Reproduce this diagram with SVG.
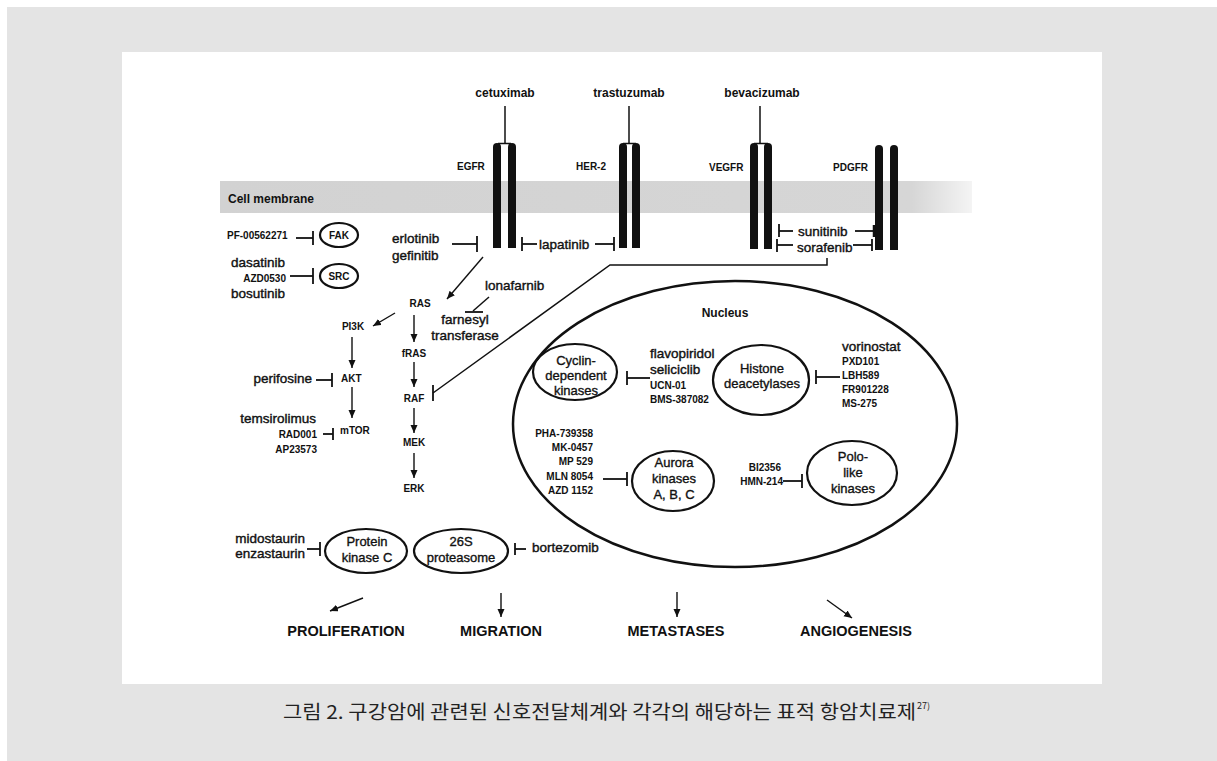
<svg xmlns="http://www.w3.org/2000/svg" width="1217" height="761" viewBox="0 0 1217 761">
<defs>
<marker id="ah" markerUnits="userSpaceOnUse" markerWidth="9" markerHeight="8" refX="8" refY="3.5" orient="auto"><path d="M0,0 L8,3.5 L0,7 z" fill="#111"/></marker>
<linearGradient id="mem" x1="0" y1="0" x2="1" y2="0"><stop offset="0" stop-color="#d2d2d2"/><stop offset="0.92" stop-color="#d6d6d6"/><stop offset="1" stop-color="#f4f4f4"/></linearGradient>
<style>
text{font-family:"Liberation Sans",Arial,sans-serif;fill:#111}
.b{font-weight:bold;font-size:12px}
.c{font-weight:bold;font-size:10px}
.d{font-size:13.5px;stroke:#111;stroke-width:0.4}
.n{font-size:13px;stroke:#111;stroke-width:0.35}
.o{font-weight:bold;font-size:14.5px}
.m{text-anchor:middle}
.e{text-anchor:end}
.ell{fill:none;stroke:#111;stroke-width:2.2}
.bar{fill:#111}
.ln{stroke:#111;stroke-width:1.5;fill:none}
.inh{stroke:#111;stroke-width:1.8;fill:none}
.arr{stroke:#111;stroke-width:1.4;fill:none;marker-end:url(#ah)}
</style>
</defs>
<rect x="7" y="7" width="1210" height="754" fill="#e4e4e4"/>
<rect x="122" y="52" width="980" height="632" fill="#ffffff"/>
<rect x="220" y="181" width="752" height="32" fill="url(#mem)"/>
<text class="b" x="228" y="203">Cell membrane</text>

<g id="egfr">
<path class="bar" d="M493,248 V147 A4,4 0 0 1 501,147 V248 Z"/>
<path class="bar" d="M508,248 V147 A4,4 0 0 1 516,147 V248 Z"/>
<line class="ln" x1="498" y1="143.5" x2="511" y2="143.5"/>
<text class="c" x="457" y="170">EGFR</text>
</g>
<g id="her2">
<path class="bar" d="M619,248 V147 A4,4 0 0 1 627,147 V248 Z"/>
<path class="bar" d="M632,248 V147 A4,4 0 0 1 640,147 V248 Z"/>
<line class="ln" x1="623" y1="143.5" x2="636" y2="143.5"/>
<text class="c" x="576" y="170">HER-2</text>
</g>
<g id="vegfr">
<path class="bar" d="M750,249 V147 A4,4 0 0 1 758,147 V249 Z"/>
<path class="bar" d="M764,249 V147 A4,4 0 0 1 772,147 V249 Z"/>
<line class="ln" x1="754" y1="143.5" x2="768" y2="143.5"/>
<text class="c" x="709" y="171">VEGFR</text>
</g>
<g id="pdgfr">
<path class="bar" d="M875,250 V149 A4,4 0 0 1 883,149 V250 Z"/>
<path class="bar" d="M890,250 V149 A4,4 0 0 1 898,149 V250 Z"/>
<text class="c" x="833" y="171">PDGFR</text>
</g>

<g id="antibodies">
<text class="b m" x="505" y="97">cetuximab</text>
<text class="b m" x="629" y="97">trastuzumab</text>
<text class="b m" x="762" y="97">bevacizumab</text>
</g>

<g id="fak"><ellipse class="ell" cx="339" cy="235" rx="19" ry="12"/><text class="c m" x="339" y="239">FAK</text></g>
<g id="src"><ellipse class="ell" cx="339" cy="276" rx="19" ry="12"/><text class="c m" x="339" y="280">SRC</text></g>
<g id="pf"><text class="c" x="227" y="239">PF-00562271</text></g>
<g id="src-drugs">
<text class="d" x="231" y="267">dasatinib</text>
<text class="c e" x="286" y="282">AZD0530</text>
<text class="d" x="231" y="298">bosutinib</text>
</g>
<g id="egfr-tki"><text class="d" x="392" y="243">erlotinib</text><text class="d" x="392" y="260">gefinitib</text></g>
<g id="lapatinib"><text class="d" x="539" y="249">lapatinib</text></g>
<g id="sunitinib"><text class="d" x="798" y="236">sunitinib</text></g>
<g id="sorafenib"><text class="d" x="797" y="252">sorafenib</text></g>

<g id="ras"><text class="c m" x="420" y="307">RAS</text></g>
<g id="lonafarnib"><text class="d" x="485" y="290">lonafarnib</text></g>
<g id="ftase"><text class="d m" x="465" y="324">farnesyl</text><text class="d m" x="465" y="340">transferase</text></g>
<g id="pi3k"><text class="c m" x="353" y="330">PI3K</text></g>
<g id="fras"><text class="c m" x="414" y="357">fRAS</text></g>
<g id="raf"><text class="c m" x="414" y="402">RAF</text></g>
<g id="mek"><text class="c m" x="414" y="446">MEK</text></g>
<g id="erk"><text class="c m" x="414" y="492">ERK</text></g>
<g id="akt"><text class="c" x="341" y="382">AKT</text></g>
<g id="perifosine"><text class="d e" x="312" y="383">perifosine</text></g>
<g id="mtor"><text class="c" x="340" y="434">mTOR</text></g>
<g id="mtor-drugs">
<text class="d e" x="316" y="423">temsirolimus</text>
<text class="c e" x="317" y="438">RAD001</text>
<text class="c e" x="317" y="453">AP23573</text>
</g>

<g id="nucleus">
<ellipse cx="735" cy="424" rx="222" ry="143" fill="none" stroke="#111" stroke-width="2.5"/>
<text class="b m" x="725" y="317">Nucleus</text>
</g>
<g id="cdk"><ellipse class="ell" cx="575" cy="372" rx="42" ry="28"/>
<text class="n m" x="576" y="365">Cyclin-</text><text class="n m" x="576" y="380">dependent</text><text class="n m" x="576" y="395">kinases</text></g>
<g id="cdk-drugs">
<text class="d" x="650" y="358">flavopiridol</text>
<text class="d" x="650" y="374">seliciclib</text>
<text class="c" x="650" y="389">UCN-01</text>
<text class="c" x="650" y="403">BMS-387082</text>
</g>
<g id="hdac"><ellipse class="ell" cx="761" cy="380" rx="48" ry="35"/>
<text class="n m" x="762" y="373">Histone</text><text class="n m" x="762" y="388">deacetylases</text></g>
<g id="hdac-drugs">
<text class="d" x="842" y="351">vorinostat</text>
<text class="c" x="842" y="365">PXD101</text>
<text class="c" x="842" y="379">LBH589</text>
<text class="c" x="842" y="393">FR901228</text>
<text class="c" x="842" y="407">MS-275</text>
</g>
<g id="aurora"><ellipse class="ell" cx="673" cy="481" rx="41" ry="30"/>
<text class="n m" x="674" y="467">Aurora</text><text class="n m" x="674" y="483">kinases</text><text class="n m" x="674" y="499">A, B, C</text></g>
<g id="aurora-drugs">
<text class="c e" x="593" y="437">PHA-739358</text>
<text class="c e" x="593" y="451">MK-0457</text>
<text class="c e" x="593" y="465">MP 529</text>
<text class="c e" x="593" y="480">MLN 8054</text>
<text class="c e" x="593" y="494">AZD 1152</text>
</g>
<g id="plk"><ellipse class="ell" cx="852" cy="473" rx="45" ry="32"/>
<text class="n m" x="853" y="461">Polo-</text><text class="n m" x="853" y="477">like</text><text class="n m" x="853" y="493">kinases</text></g>
<g id="plk-drugs">
<text class="c e" x="781" y="471">BI2356</text>
<text class="c e" x="783" y="485">HMN-214</text>
</g>
<g id="pkc"><ellipse class="ell" cx="366" cy="551" rx="41" ry="22"/>
<text class="n m" x="367" y="546">Protein</text><text class="n m" x="367" y="562">kinase C</text></g>
<g id="pkc-drugs"><text class="d e" x="305" y="543">midostaurin</text><text class="d e" x="305" y="558">enzastaurin</text></g>
<g id="proteasome"><ellipse class="ell" cx="461" cy="551" rx="47" ry="22"/>
<text class="n m" x="461" y="546">26S</text><text class="n m" x="461" y="562">proteasome</text></g>
<g id="bortezomib"><text class="d" x="532" y="552">bortezomib</text></g>

<g id="outcomes">
<text class="o m" x="346" y="636">PROLIFERATION</text>
<text class="o m" x="501" y="636">MIGRATION</text>
<text class="o m" x="676" y="636">METASTASES</text>
<text class="o m" x="856" y="636">ANGIOGENESIS</text>
</g>

<g id="connectors">
<line class="ln" x1="505" y1="106" x2="505" y2="143"/>
<line class="ln" x1="629" y1="106" x2="629" y2="143"/>
<line class="ln" x1="760" y1="106" x2="760" y2="143"/>
<line class="inh" x1="296" y1="238" x2="313" y2="238"/><line class="inh" x1="313" y1="231" x2="313" y2="245"/>
<line class="inh" x1="290" y1="276" x2="313" y2="276"/><line class="inh" x1="313" y1="268" x2="313" y2="284"/>
<line class="inh" x1="452" y1="244" x2="477" y2="244"/><line class="inh" x1="477" y1="236" x2="477" y2="252"/>
<line class="inh" x1="522" y1="237" x2="522" y2="251"/><line class="inh" x1="522" y1="244" x2="537" y2="244"/>
<line class="inh" x1="595" y1="244" x2="614" y2="244"/><line class="inh" x1="614" y1="237" x2="614" y2="251"/>
<line class="inh" x1="779" y1="224" x2="779" y2="237"/><line class="inh" x1="779" y1="231" x2="793" y2="231"/>
<line class="inh" x1="855" y1="231" x2="874" y2="231"/><line class="inh" x1="874" y1="225" x2="874" y2="237" style="stroke-width:2.5"/>
<line class="inh" x1="777" y1="239" x2="777" y2="252"/><line class="inh" x1="777" y1="245" x2="793" y2="245"/>
<line class="inh" x1="853" y1="245" x2="872" y2="245"/><line class="inh" x1="872" y1="239" x2="872" y2="251"/>
<polyline class="ln" points="827,258 827,265 610,265 433,393"/><line class="inh" x1="433" y1="385" x2="433" y2="401"/>
<line class="ln" x1="489" y1="297" x2="473" y2="311"/><line class="inh" x1="465" y1="312" x2="483" y2="312"/>
<line class="inh" x1="316" y1="380" x2="332" y2="380"/><line class="inh" x1="332" y1="373" x2="332" y2="387"/>
<line class="inh" x1="323" y1="434" x2="333" y2="434"/><line class="inh" x1="333" y1="428" x2="333" y2="440"/>
<line class="inh" x1="627" y1="378" x2="650" y2="378"/><line class="inh" x1="627" y1="371" x2="627" y2="385"/>
<line class="inh" x1="816" y1="377" x2="840" y2="377"/><line class="inh" x1="816" y1="370" x2="816" y2="384"/>
<line class="inh" x1="603" y1="479" x2="627" y2="479"/><line class="inh" x1="627" y1="472" x2="627" y2="486"/>
<line class="inh" x1="783" y1="481" x2="802" y2="481"/><line class="inh" x1="802" y1="474" x2="802" y2="488"/>
<line class="inh" x1="307" y1="549" x2="320" y2="549"/><line class="inh" x1="320" y1="542" x2="320" y2="556"/>
<line class="inh" x1="515" y1="549" x2="526" y2="549"/><line class="inh" x1="515" y1="543" x2="515" y2="555"/>
<line class="arr" x1="483" y1="257" x2="447" y2="299"/>
<line class="arr" x1="395" y1="313" x2="373" y2="326"/>
<line class="arr" x1="414" y1="315" x2="414" y2="342"/>
<line class="arr" x1="414" y1="362" x2="414" y2="387"/>
<line class="arr" x1="414" y1="408" x2="414" y2="433"/>
<line class="arr" x1="414" y1="453" x2="414" y2="478"/>
<line class="arr" x1="352" y1="337" x2="352" y2="368"/>
<line class="arr" x1="352" y1="387" x2="352" y2="418"/>
<line class="arr" x1="363" y1="598" x2="330" y2="611"/>
<line class="arr" x1="501" y1="593" x2="501" y2="617"/>
<line class="arr" x1="677" y1="592" x2="677" y2="617"/>
<line class="arr" x1="827" y1="600" x2="852" y2="618"/>
</g>

<g id="caption">
<text x="283" y="719" style="font-family:'Noto Sans CJK KR','Noto Sans',sans-serif;font-size:19px;fill:#222" textLength="633" lengthAdjust="spacingAndGlyphs">그림 2. 구강암에 관련된 신호전달체계와 각각의 해당하는 표적 항암치료제</text>
<text x="917" y="709" style="font-family:'Noto Sans CJK KR','Noto Sans',sans-serif;font-size:9px;fill:#222">27)</text>
</g>
</svg>
